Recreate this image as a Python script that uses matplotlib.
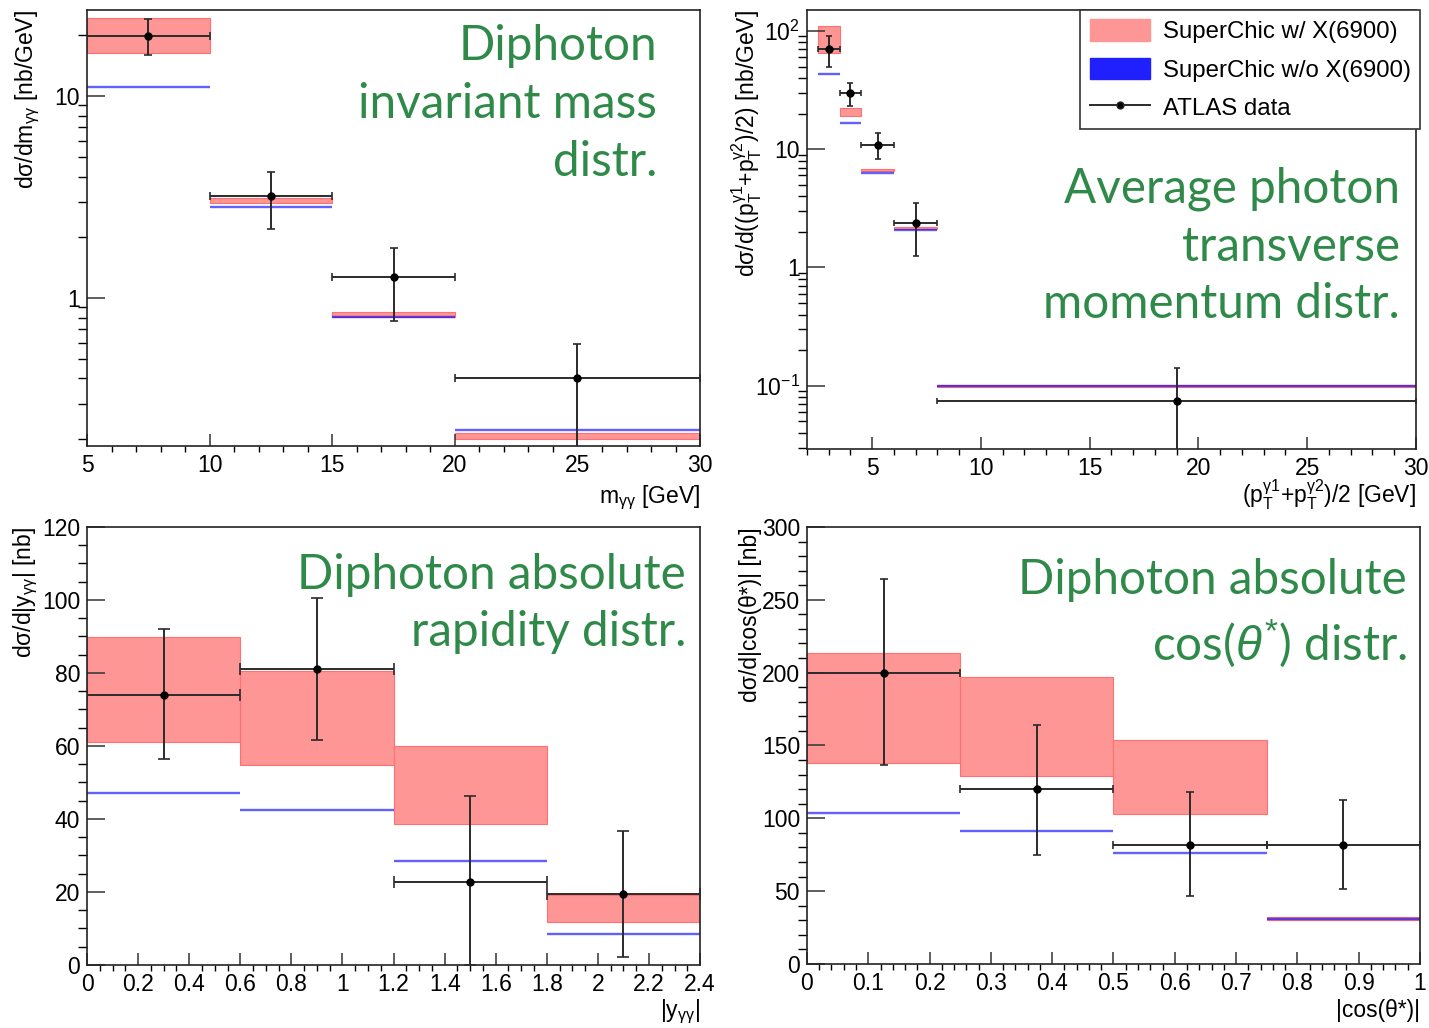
import numpy as np
import matplotlib
matplotlib.use("Agg")
import matplotlib.pyplot as plt
from matplotlib.patches import Patch
from matplotlib.lines import Line2D
from matplotlib.ticker import MultipleLocator, FixedLocator, FixedFormatter, LogLocator, NullFormatter

plt.rcParams['font.family'] = ['Liberation Sans', 'DejaVu Sans']
plt.rcParams['mathtext.fontset'] = 'custom'
plt.rcParams['mathtext.rm'] = 'Liberation Sans'
plt.rcParams['mathtext.it'] = 'Liberation Sans:italic'
plt.rcParams['mathtext.bf'] = 'Liberation Sans:bold'

# ---- diphoton invariant mass ----
m_edges = [5, 10, 15, 20, 30]
m_data = [19.8, 3.2, 1.27, 0.40]
m_up = [24.0, 4.2, 1.77, 0.59]
m_lo = [16.0, 2.2, 0.77, 0.10]
m_red_hi = [24.3, 3.14, 0.85, 0.215]
m_red_lo = [16.3, 2.97, 0.81, 0.200]
m_blue = [11.1, 2.83, 0.805, 0.222]

# ---- average photon pT ----
pt_edges = [2.5, 3.5, 4.5, 6, 8, 30]
pt_data = [70, 29.6, 10.9, 2.37, 0.075]
pt_up = [91, 36, 13.6, 3.5, 0.142]
pt_lo = [50, 23.4, 8.2, 1.24, 0.02]
pt_red_hi = [110, 22.4, 6.8, 2.2, 0.1015]
pt_red_lo = [65, 18.9, 6.5, 2.1, 0.097]
pt_blue = [43.3, 16.5, 6.3, 2.07, 0.099]

# ---- diphoton |y| ----
y_edges = [0, 0.6, 1.2, 1.8, 2.4]
y_data = [74, 81, 22.6, 19.4]
y_up = [92, 100.5, 46.3, 36.7]
y_lo = [56.3, 61.7, 0, 2.3]
y_red_hi = [89.8, 80.6, 60, 19.1]
y_red_lo = [61.2, 54.8, 38.7, 11.8]
y_blue = [47, 42.4, 28.5, 8.4]

# ---- |cos(theta*)| ----
c_edges = [0, 0.25, 0.5, 0.75, 1]
c_data = [200, 120, 82, 82]
c_up = [264, 164, 118, 112.5]
c_lo = [136.5, 74.8, 46.6, 51.7]
c_red_hi = [213.5, 197, 153.7, 32]
c_red_lo = [138, 129, 103, 30.5]
c_blue = [103.5, 91.5, 76.5, 31.2]

RED = '#ff9696'
GREEN = '#2f8a4a'
INK = '#2b2b2b'
TXT = 34.3


def draw(ax, edges, data, up, lo, red_hi, red_lo, blue, capsize=3):
    e = np.array(edges, float)
    ctr = (e[:-1] + e[1:]) / 2
    half = (e[1:] - e[:-1]) / 2
    d = np.array(data)
    rh = np.array(red_hi)
    rl = np.array(red_lo)
    ax.bar(ctr, rh - rl, bottom=rl, width=2 * half, color=RED,
           edgecolor='#ff7070', linewidth=0.8, zorder=1)
    ax.hlines(blue, e[:-1], e[1:], color='blue', alpha=0.62, lw=1.7, zorder=2)
    ax.errorbar(ctr, d, xerr=half, yerr=[d - np.array(lo), np.array(up) - d],
                fmt='o', ms=5, color='black', ecolor=INK, elinewidth=1.4,
                capsize=capsize, capthick=1.2, zorder=3)


def style(ax):
    for s in ax.spines.values():
        s.set_linewidth(1.2)
        s.set_color('#222222')
    ax.tick_params(direction='in', top=False, right=False, labelsize=16.5,
                   width=1.1, color='#333333')
    ax.tick_params(axis='y', which='major', length=13, pad=5)
    ax.tick_params(axis='y', which='minor', length=6.5, width=1.0)
    ax.tick_params(axis='x', which='major', length=8.6, pad=6)
    ax.tick_params(axis='x', which='minor', length=4.3, width=1.0)


fig = plt.figure(figsize=(14.29, 10.28), dpi=100)

# top-left
a1 = fig.add_axes([0.0609, 0.5661, 0.4290, 0.4241])
draw(a1, m_edges, m_data, m_up, m_lo, m_red_hi, m_red_lo, m_blue)
a1.set_yscale('log')
a1.set_xlim(5, 30)
a1.set_ylim(0.185, 26.7)
a1.xaxis.set_major_locator(MultipleLocator(5))
a1.xaxis.set_minor_locator(MultipleLocator(1))
a1.yaxis.set_major_locator(FixedLocator([1, 10]))
a1.yaxis.set_major_formatter(FixedFormatter(['1', '10']))
a1.yaxis.set_minor_locator(LogLocator(subs=np.arange(2, 10)))
a1.yaxis.set_minor_formatter(NullFormatter())
style(a1)
a1.set_ylabel('dσ/dm$_{\\mathrm{γγ}}$ [nb/GeV]', fontsize=16.5, loc='top')
a1.yaxis.set_label_coords(-0.073, 1.0)
a1.set_xlabel('m$_{\\mathrm{γγ}}$ [GeV]', fontsize=16.5, loc='right')
a1.xaxis.set_label_coords(1.0, -0.085)
a1.text(0.93, 0.968, 'Diphoton\ninvariant mass\ndistr.', transform=a1.transAxes,
        ha='right', va='top', fontsize=TXT, color=GREEN, family='Lato',
        linespacing=1.39)

# top-right
a2 = fig.add_axes([0.5647, 0.5632, 0.4262, 0.4270])
draw(a2, pt_edges, pt_data, pt_up, pt_lo, pt_red_hi, pt_red_lo, pt_blue, capsize=2.5)
a2.set_yscale('log')
a2.set_xlim(2, 30)
a2.set_ylim(0.0292, 150)
a2.xaxis.set_major_locator(MultipleLocator(5))
a2.xaxis.set_minor_locator(MultipleLocator(1))
a2.yaxis.set_major_locator(FixedLocator([0.1, 1, 10, 100]))
a2.yaxis.set_major_formatter(FixedFormatter(['$10^{-1}$', '1', '10', '$10^{2}$']))
a2.yaxis.set_minor_locator(LogLocator(subs=np.arange(2, 10)))
a2.yaxis.set_minor_formatter(NullFormatter())
style(a2)
a2.set_ylabel('dσ/d(($\\mathrm{p}_{\\mathrm{T}}^{\\mathrm{γ1}}$+$\\mathrm{p}_{\\mathrm{T}}^{\\mathrm{γ2}}$)/2) [nb/GeV]',
              fontsize=16.5, loc='top')
a2.yaxis.set_label_coords(-0.071, 1.0)
a2.set_xlabel('($\\mathrm{p}_{\\mathrm{T}}^{\\mathrm{γ1}}$+$\\mathrm{p}_{\\mathrm{T}}^{\\mathrm{γ2}}$)/2 [GeV]',
              fontsize=16.5, loc='right')
a2.xaxis.set_label_coords(1.0, -0.066)
a2.text(0.974, 0.643, 'Average photon\ntransverse\nmomentum distr.', transform=a2.transAxes,
        ha='right', va='top', fontsize=TXT, color=GREEN, family='Lato',
        linespacing=1.37)

handles = [Patch(facecolor=RED, edgecolor=RED),
           Patch(facecolor='#2020ff', edgecolor='#2020ff'),
           Line2D([0], [0], color=INK, marker='o', ms=5, mfc='black', lw=1.4)]
labels = ['SuperChic w/ X(6900)', 'SuperChic w/o X(6900)', 'ATLAS data']
leg = fig.legend(handles, labels, loc='upper right',
                 bbox_to_anchor=(1420 / 1429, 1 - 10 / 1028),
                 bbox_transform=fig.transFigure, fontsize=17.3, frameon=True,
                 fancybox=False, framealpha=1, edgecolor='#333333',
                 handlelength=2.5, handleheight=1.0, handletextpad=0.55,
                 labelspacing=0.6, borderpad=0.38, borderaxespad=0, numpoints=1)
leg.get_frame().set_linewidth(1.2)

# bottom-left
a3 = fig.add_axes([0.0609, 0.0613, 0.4290, 0.4261])
draw(a3, y_edges, y_data, y_up, y_lo, y_red_hi, y_red_lo, y_blue, capsize=4)
a3.set_xlim(0, 2.4)
a3.set_ylim(0, 120)
a3.xaxis.set_major_locator(FixedLocator([0, 0.2, 0.4, 0.6, 0.8, 1, 1.2, 1.4, 1.6, 1.8, 2, 2.2, 2.4]))
a3.xaxis.set_major_formatter(FixedFormatter(['0', '0.2', '0.4', '0.6', '0.8', '1', '1.2',
                                             '1.4', '1.6', '1.8', '2', '2.2', '2.4']))
a3.xaxis.set_minor_locator(MultipleLocator(0.05))
a3.yaxis.set_major_locator(MultipleLocator(20))
a3.yaxis.set_minor_locator(MultipleLocator(5))
style(a3)
a3.set_ylabel('dσ/d|y$_{\\mathrm{γγ}}$| [nb]', fontsize=16.5, loc='top')
a3.yaxis.set_label_coords(-0.077, 1.0)
a3.set_xlabel('|y$_{\\mathrm{γγ}}$|', fontsize=16.5, loc='right')
a3.xaxis.set_label_coords(1.0, -0.075)
a3.text(0.977, 0.9405, 'Diphoton absolute\nrapidity distr.', transform=a3.transAxes,
        ha='right', va='top', fontsize=TXT, color=GREEN, family='Lato',
        linespacing=1.37)

# bottom-right
a4 = fig.add_axes([0.5647, 0.0623, 0.4290, 0.4251])
draw(a4, c_edges, c_data, c_up, c_lo, c_red_hi, c_red_lo, c_blue)
a4.set_xlim(0, 1)
a4.set_ylim(0, 300)
a4.xaxis.set_major_locator(FixedLocator([0, 0.1, 0.2, 0.3, 0.4, 0.5, 0.6, 0.7, 0.8, 0.9, 1]))
a4.xaxis.set_major_formatter(FixedFormatter(['0', '0.1', '0.2', '0.3', '0.4', '0.5',
                                             '0.6', '0.7', '0.8', '0.9', '1']))
a4.xaxis.set_minor_locator(MultipleLocator(0.02))
a4.yaxis.set_major_locator(MultipleLocator(50))
a4.yaxis.set_minor_locator(MultipleLocator(10))
style(a4)
a4.set_ylabel('dσ/d|cos(θ*)| [nb]', fontsize=16.5, loc='top')
a4.yaxis.set_label_coords(-0.073, 1.0)
a4.set_xlabel('|cos(θ*)|', fontsize=16.5, loc='right')
a4.xaxis.set_label_coords(1.0, -0.08)
a4.text(0.979, 0.93, 'Diphoton absolute\ncos($\\theta^{*}$) distr.', transform=a4.transAxes,
        ha='right', va='top', fontsize=TXT, color=GREEN, family='Lato',
        linespacing=1.37)

fig.savefig('out.png', dpi=100)
